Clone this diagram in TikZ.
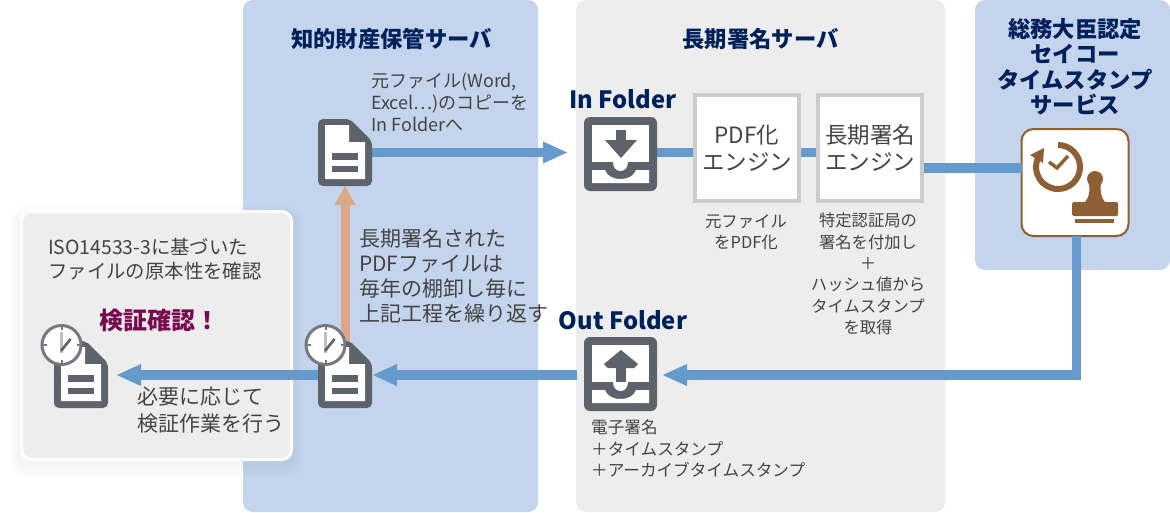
\documentclass[tikz,border=0pt]{standalone}
\usepackage{fontspec}
\setmainfont{Noto Sans CJK JP}
\usetikzlibrary{arrows.meta}
\definecolor{panelblue}{HTML}{C3D4EC}
\definecolor{panelgray}{HTML}{EDEDED}
\definecolor{flow}{HTML}{6699CC}
\definecolor{tanflow}{HTML}{D9A98A}
\definecolor{icon}{HTML}{5D626B}
\definecolor{navy}{HTML}{00205B}
\definecolor{plum}{HTML}{7A0A50}
\definecolor{brownc}{HTML}{8E5F33}
\definecolor{txt}{HTML}{444444}
\definecolor{boxline}{HTML}{CCCCCC}
\newcommand{\fs}[2]{\fontsize{#1}{#2}\selectfont}
% document icon, #1 left, #2 top
\newcommand{\docicon}[2]{%
  \begin{scope}[shift={(#1,#2)}]
    \fill[icon,rounded corners=5pt] (0,0) -- (32,0) -- (54,22) -- (54,67) -- (0,67) -- cycle;
    \fill[white] (7,6) -- (31,6) -- (31,23) -- (47,23) -- (47,60) -- (7,60) -- cycle;
    \fill[icon] (14,34) rectangle (40,40.5);
    \fill[icon] (14,46.5) rectangle (40,53);
  \end{scope}}
% clock icon, centre
\newcommand{\clockicon}[2]{%
  \begin{scope}[shift={(#1,#2)}]
    \draw[fill=white,draw=icon!85!white,line width=3pt] (0,0) circle[radius=19.5pt];
    \fill[icon!85!white] (-1,-19) rectangle (1,-15);
    \fill[icon!85!white] (-1,19) rectangle (1,15);
    \fill[icon!85!white] (-19,-1) rectangle (-15,1);
    \fill[icon!85!white] (19,-1) rectangle (15,1);
    \draw[line width=2.2pt,draw=black!25] (0,-13) -- (0,8);
    \draw[line width=2.6pt,draw=icon] (-.5,6) -- (9,-6);
  \end{scope}}
% tray icon, #1 left, #2 top; #3 = arrow
\newcommand{\trayicon}[3]{%
  \begin{scope}[shift={(#1,#2)}]
    \fill[icon,rounded corners=6pt] (0,0) rectangle (73,74);
    \fill[white] (8,8) rectangle (65,45);
    \fill[white] (8,53) -- (21,53) .. controls (23,59) and (29,62) .. (36.5,62) .. controls (44,62) and (50,59) .. (52,53) -- (65,53) -- (65,66) -- (8,66) -- cycle;
    \fill[white] (29,45) .. controls (29,57) and (44,57) .. (44,45) -- cycle;
    #3
  \end{scope}}
\tikzset{
  panel/.style={rounded corners=10pt,draw=none},
  flowline/.style={draw=flow,line width=9.5pt,-{Triangle[length=25pt,width=20pt]}},
  plainflow/.style={draw=flow,line width=9.5pt},
  tanline/.style={draw=tanflow,line width=9pt,-{Triangle[length=19pt,width=20pt]}},
  ghost/.style={inner sep=0pt,outer sep=0pt,draw=none},
  enginebox/.style={draw=boxline,line width=4pt,fill=white,inner sep=0pt,outer sep=2pt,
     minimum width=104pt,minimum height=106pt,align=center,text=txt,font=\fs{22.5}{27.5}},
  head/.style={text=navy,font=\fs{22.3}{25.5}\bfseries,align=center,inner sep=0pt},
  folder/.style={text=navy,font=\fs{23.8}{30}\bfseries,inner sep=0pt},
  note/.style={text=txt,inner sep=0pt,align=left,anchor=west},
  cnote/.style={text=txt,inner sep=0pt,align=center},
}
\begin{document}
\begin{tikzpicture}[x=1pt,y=-1pt]
\useasboundingbox (0,0) rectangle (1170,512);
% panels
\fill[panel,panelblue] (243,0) rectangle (538,512);
\fill[panel,panelgray] (576,0) rectangle (945,512);
\fill[panel,panelblue] (975,0) rectangle (1170,270);
% soft shadow and verification box
\foreach \g in {10,8,6,4,2}{
  \fill[black,opacity=0.007,rounded corners=14pt] (20-\g,210-\g+6) rectangle (293+\g,461+\g+6);
}
\node[draw=white,fill=panelgray,line width=3pt,rounded corners=10pt,inner sep=0pt,outer sep=0pt,
  minimum width=270pt,minimum height=248pt] (verify) at (156.5,335.5) {};
% anchors for connectors
\node[ghost,minimum width=54pt,minimum height=67pt] (doca) at (345,152.5) {};
\node[ghost,minimum width=54pt,minimum height=67pt] (docb) at (345,375) {};
\node[ghost,minimum width=54pt,minimum height=67pt] (docc) at (81,375) {};
\node[ghost,minimum width=73pt,minimum height=74pt] (inbox) at (620.5,154) {};
\node[ghost,minimum width=73pt,minimum height=74pt] (outbox) at (620.5,374) {};
\node[enginebox] (pdf) at (747,148) {PDF化\\エンジン};
\node[enginebox] (sign) at (870,148) {長期署名\\エンジン};
\node[draw=brownc,fill=white,line width=2pt,rounded corners=12pt,inner sep=0pt,outer sep=0pt,
  minimum width=107pt,minimum height=107pt] (stamp) at (1075,182.5) {};
\coordinate (intip) at (568,152.5);
\coordinate (signout) at (924,168);
\coordinate (outcorner) at (1076.5,375);
\coordinate (outtip) at (662,375);
\coordinate (outleft) at (577,375);
% connectors
\draw[flowline] (doca.east) -- (intip);
\draw[plainflow] (inbox.east |- intip) -- (pdf.west |- intip);
\draw[plainflow] (pdf.east |- intip) -- (sign.west |- intip);
\draw[plainflow] (signout) -- (stamp.west |- signout);
\draw[flowline] (stamp.south -| outcorner) -- (outcorner) -- (outtip);
\draw[flowline] (outleft) -- (docb.east);
\draw[flowline] (docb.west) -- ([xshift=8pt]docc.east);
\draw[tanline] (345,342) -- (doca.south);
% icons
\docicon{318}{119}
\docicon{318}{341}
\docicon{54}{341}
\clockicon{325.5}{345}
\clockicon{61.5}{345}
\trayicon{584}{117}{%
  \fill[icon] (32,13) rectangle (42,24);
  \fill[icon] (21,23) -- (53,23) -- (37,41) -- cycle;}
\trayicon{584}{337}{%
  \fill[icon] (32,45) rectangle (42,28);
  \fill[icon] (20,27) -- (37,13) -- (54,27) -- (50,31) -- (24,31) -- cycle;}
% stamp drawing
\draw[brownc,line width=6pt] (1058,145) arc[start angle=90,end angle=-205,radius=22pt];
\fill[brownc] (1030,155) -- (1044,148) -- (1043,163) -- cycle;
\draw[brownc,line width=3.4pt] (1049,162) -- (1057,168) -- (1068,156);
\fill[brownc] (1095,179) circle[radius=8pt];
\fill[brownc] (1089,183) .. controls (1090,190) and (1090,197) .. (1084,203) -- (1106,203) .. controls (1100,197) and (1100,190) .. (1101,183) -- cycle;
\fill[brownc,rounded corners=1.5pt] (1072,202) rectangle (1118,216);
\fill[brownc] (1075,219) rectangle (1114,223);
% headings
\node[head] (h1) at (391.5,39) {知的財産保管サーバ};
\node[head] (h2) at (760.5,39) {長期署名サーバ};
\node[head] (h3) at (1075,67) {総務大臣認定\\セイコー\\タイムスタンプ\\サービス};
\node[folder] (f1) at (623,99) {In Folder};
\node[folder] (f2) at (623,320) {Out Folder};
% notes
\node[note,font=\fs{18}{22}] (n1) at (371,102) {元ファイル(Word,\\Excel…)のコピーを\\In Folderへ};
\node[note,font=\fs{21}{25}] (n2) at (359,276) {長期署名された\\PDFファイルは\\毎年の棚卸し毎に\\上記工程を繰り返す};
\node[note,font=\fs{19.4}{24}] (n3) at (48,259) {ISO14533-3に基づいた\\ファイルの原本性を確認};
\node[inner sep=0pt,text=plum,font=\fs{24}{28}\bfseries] (n4) at (159.5,320) {検証確認！};
\node[note,font=\fs{21}{27}] (n5) at (137,410) {必要に応じて\\検証作業を行う};
\node[cnote,font=\fs{16.4}{21}] (n6) at (746,232.5) {元ファイル\\をPDF化};
\node[cnote,font=\fs{16.3}{21.3}] (n7) at (868,274) {特定認証局の\\署名を付加し\\＋\\ハッシュ値から\\タイムスタンプ\\を取得};
\node[note,font=\fs{16.6}{21.5}] (n8) at (591,448.5) {電子署名\\＋タイムスタンプ\\＋アーカイブタイムスタンプ};
\end{tikzpicture}
\end{document}
